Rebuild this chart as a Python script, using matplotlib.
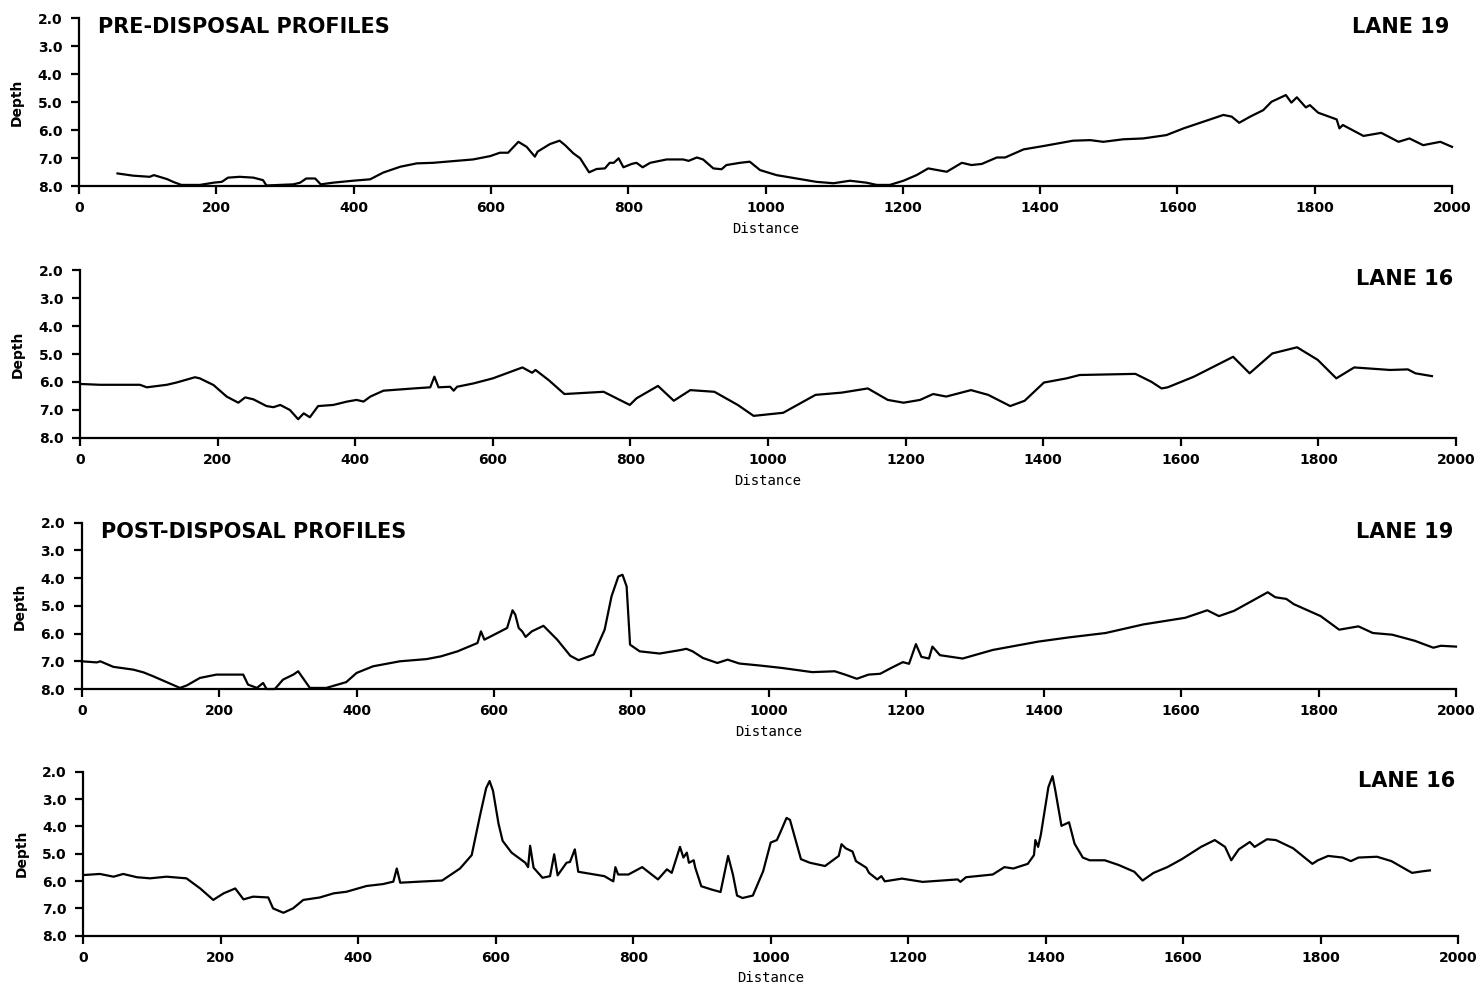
import matplotlib
matplotlib.use('Agg')
import matplotlib.pyplot as plt

# pre-disposal, lane 19
dist_pre19 = [56, 79, 103, 109, 128, 137, 149, 176, 196, 208, 217, 234, 254, 268, 273, 312, 322, 331, 344, 352,
              370, 399, 424, 443, 468, 492, 516, 540, 574, 599, 613, 625, 640, 652, 664, 668, 686, 700, 708, 720,
              730, 743, 754, 766, 773, 779, 786, 793, 805, 812, 821, 832, 856, 880, 888, 900, 909, 924, 936, 943,
              963, 977, 992, 1016, 1050, 1074, 1099, 1123, 1147, 1162, 1181, 1201, 1220, 1237, 1264, 1286, 1300, 1315, 1337, 1349,
              1376, 1405, 1448, 1473, 1492, 1521, 1550, 1584, 1609, 1638, 1667, 1679, 1690, 1706, 1725, 1737, 1758, 1766, 1774, 1787,
              1793, 1805, 1832, 1836, 1841, 1871, 1897, 1922, 1938, 1958, 1983, 2000]
depth_pre19 = [7.55, 7.63, 7.67, 7.61, 7.75, 7.85, 7.96, 7.96, 7.88, 7.85, 7.7, 7.67, 7.7, 7.79, 7.98, 7.94, 7.88, 7.73, 7.73, 7.94,
               7.88, 7.81, 7.76, 7.52, 7.31, 7.19, 7.17, 7.12, 7.05, 6.93, 6.81, 6.81, 6.42, 6.6, 6.95, 6.77, 6.5, 6.38, 6.54, 6.83,
               7.01, 7.51, 7.39, 7.37, 7.17, 7.17, 7.01, 7.33, 7.21, 7.17, 7.33, 7.17, 7.05, 7.05, 7.1, 6.98, 7.05, 7.37, 7.4, 7.25,
               7.17, 7.13, 7.43, 7.61, 7.75, 7.85, 7.9, 7.81, 7.88, 7.96, 7.96, 7.81, 7.61, 7.37, 7.49, 7.17, 7.25, 7.21, 6.98, 6.98,
               6.69, 6.57, 6.38, 6.36, 6.42, 6.33, 6.3, 6.18, 5.94, 5.7, 5.46, 5.52, 5.74, 5.52, 5.29, 4.99, 4.75, 5.02, 4.83, 5.19,
               5.11, 5.38, 5.62, 5.94, 5.82, 6.21, 6.1, 6.42, 6.3, 6.54, 6.42, 6.6]

# pre-disposal, lane 16
dist_pre16 = [0, 29, 87, 97, 126, 140, 167, 174, 194, 213, 230, 240, 252, 271, 281, 291, 305, 317, 325, 334,
              346, 368, 388, 402, 412, 422, 441, 485, 509, 515, 521, 538, 543, 548, 572, 600, 643, 657, 662, 681,
              704, 761, 799, 809, 840, 863, 887, 922, 956, 979, 1022, 1069, 1107, 1145, 1174, 1197, 1221, 1240, 1259, 1295,
              1320, 1352, 1373, 1401, 1434, 1453, 1534, 1557, 1572, 1581, 1619, 1676, 1700, 1733, 1769, 1799, 1826, 1852, 1904, 1930,
              1941, 1965]
depth_pre16 = [6.07, 6.1, 6.1, 6.19, 6.1, 6.02, 5.83, 5.87, 6.11, 6.52, 6.74, 6.55, 6.62, 6.86, 6.9, 6.82, 7.0, 7.33, 7.12, 7.26,
               6.86, 6.82, 6.7, 6.64, 6.7, 6.52, 6.31, 6.23, 6.19, 5.81, 6.19, 6.17, 6.31, 6.17, 6.05, 5.87, 5.48, 5.67, 5.57, 5.93,
               6.43, 6.35, 6.82, 6.58, 6.14, 6.67, 6.29, 6.35, 6.82, 7.21, 7.1, 6.46, 6.38, 6.23, 6.64, 6.74, 6.64, 6.43, 6.52, 6.29,
               6.46, 6.86, 6.67, 6.02, 5.87, 5.75, 5.71, 5.99, 6.23, 6.19, 5.81, 5.1, 5.69, 4.98, 4.76, 5.21, 5.87, 5.48, 5.57, 5.55,
               5.69, 5.79]

# post-disposal, lane 19
dist_post19 = [0, 22, 27, 46, 75, 90, 104, 143, 153, 172, 196, 235, 242, 255, 264, 269, 281, 293, 308, 315,
               332, 356, 385, 400, 424, 463, 502, 523, 547, 576, 581, 586, 619, 627, 631, 636, 641, 646, 655, 672,
               692, 711, 723, 745, 761, 771, 781, 787, 793, 798, 812, 841, 870, 880, 889, 904, 925, 940, 957, 986,
               1019, 1063, 1096, 1111, 1128, 1145, 1162, 1178, 1195, 1204, 1214, 1222, 1233, 1238, 1249, 1282, 1326, 1392, 1436, 1490,
               1545, 1606, 1638, 1655, 1677, 1699, 1726, 1737, 1753, 1764, 1803, 1830, 1858, 1879, 1907, 1940, 1967, 1978, 2000]
depth_post19 = [7.0, 7.04, 7.0, 7.2, 7.3, 7.4, 7.54, 7.96, 7.87, 7.6, 7.48, 7.48, 7.84, 7.96, 7.78, 8.0, 8.0, 7.66, 7.48, 7.36,
                7.96, 7.96, 7.75, 7.42, 7.18, 7.0, 6.92, 6.82, 6.64, 6.34, 5.92, 6.22, 5.8, 5.16, 5.32, 5.8, 5.92, 6.12, 5.92, 5.72,
                6.22, 6.8, 6.96, 6.76, 5.86, 4.66, 3.94, 3.88, 4.3, 6.4, 6.64, 6.72, 6.6, 6.55, 6.64, 6.88, 7.06, 6.94, 7.08, 7.15,
                7.24, 7.39, 7.36, 7.48, 7.63, 7.48, 7.45, 7.24, 7.03, 7.09, 6.38, 6.84, 6.9, 6.47, 6.78, 6.9, 6.59, 6.29, 6.14, 5.98,
                5.67, 5.43, 5.16, 5.37, 5.18, 4.88, 4.51, 4.69, 4.75, 4.94, 5.37, 5.86, 5.74, 5.98, 6.04, 6.26, 6.51, 6.44, 6.47]

# post-disposal, lane 16
dist_post16 = [0, 24, 44, 58, 78, 97, 121, 150, 170, 189, 204, 221, 233, 247, 269, 276, 291, 305, 320, 344,
               364, 383, 412, 436, 451, 456, 461, 490, 522, 548, 565, 577, 586, 591, 596, 604, 610, 623, 643, 647,
               650, 655, 668, 679, 685, 690, 703, 708, 715, 720, 758, 771, 774, 778, 793, 813, 836, 849, 856, 868,
               873, 878, 881, 888, 890, 899, 914, 927, 938, 945, 951, 959, 974, 989, 1000, 1009, 1015, 1023, 1028, 1044,
               1057, 1079, 1099, 1103, 1109, 1119, 1124, 1139, 1143, 1155, 1161, 1166, 1191, 1221, 1272, 1276, 1284, 1323, 1340, 1353,
               1374, 1383, 1385, 1389, 1393, 1404, 1410, 1414, 1423, 1434, 1442, 1454, 1464, 1486, 1506, 1529, 1541, 1557, 1577, 1598,
               1626, 1646, 1661, 1670, 1681, 1697, 1704, 1722, 1735, 1760, 1788, 1796, 1811, 1832, 1844, 1855, 1882, 1903, 1933, 1949,
               1959]
depth_post16 = [5.78, 5.74, 5.84, 5.74, 5.86, 5.9, 5.84, 5.9, 6.27, 6.69, 6.45, 6.27, 6.67, 6.57, 6.6, 7.0, 7.16, 7.0, 6.69, 6.6,
                6.45, 6.39, 6.18, 6.11, 6.02, 5.54, 6.06, 6.02, 5.98, 5.54, 5.05, 3.61, 2.6, 2.34, 2.7, 3.9, 4.53, 4.96, 5.33, 5.49,
                4.71, 5.51, 5.88, 5.82, 5.02, 5.79, 5.33, 5.3, 4.84, 5.66, 5.82, 6.01, 5.49, 5.76, 5.76, 5.49, 5.94, 5.57, 5.7, 4.75,
                5.14, 4.96, 5.33, 5.24, 5.49, 6.19, 6.31, 6.4, 5.08, 5.76, 6.53, 6.62, 6.53, 5.64, 4.59, 4.5, 4.16, 3.69, 3.76, 5.2,
                5.33, 5.45, 5.08, 4.65, 4.8, 4.92, 5.27, 5.51, 5.7, 5.94, 5.82, 6.01, 5.91, 6.03, 5.94, 6.03, 5.86, 5.76, 5.49, 5.54,
                5.37, 5.05, 4.5, 4.75, 4.3, 2.56, 2.16, 2.68, 3.98, 3.85, 4.63, 5.14, 5.24, 5.24, 5.41, 5.66, 5.98, 5.7, 5.49, 5.2,
                4.75, 4.5, 4.75, 5.24, 4.84, 4.57, 4.75, 4.47, 4.5, 4.8, 5.37, 5.24, 5.08, 5.14, 5.27, 5.14, 5.11, 5.27, 5.7, 5.64,
                5.61]

lane_labels = ['LANE 19', 'LANE 16', 'LANE 19', 'LANE 16']
section_labels = ['PRE-DISPOSAL PROFILES', None, 'POST-DISPOSAL PROFILES', None]
x_ticks = list(range(0, 2001, 200))
y_ticks = [2.0, 3.0, 4.0, 5.0, 6.0, 7.0, 8.0]

profiles = [(dist_pre19, depth_pre19), (dist_pre16, depth_pre16),
            (dist_post19, depth_post19), (dist_post16, depth_post16)]

# axes boxes in figure fractions: left, bottom, width, height
boxes = [[0.0533, 0.8117, 0.9258, 0.1700],
         [0.0540, 0.5567, 0.9278, 0.1700],
         [0.0551, 0.3026, 0.9267, 0.1684],
         [0.0562, 0.0529, 0.9270, 0.1660]]

fig = plt.figure(figsize=(14.83, 9.88), dpi=100)

for i in range(4):
    ax = fig.add_axes(boxes[i])
    x, d = profiles[i]
    ax.plot(x, d, color='black', lw=1.6, clip_on=False, solid_joinstyle='round')
    ax.set_xlim(0, 2000)
    ax.set_ylim(8, 2)
    ax.spines['top'].set_visible(False)
    ax.spines['right'].set_visible(False)
    ax.spines['left'].set_linewidth(1.6)
    ax.spines['bottom'].set_linewidth(1.6)
    ax.set_xticks(x_ticks)
    ax.set_xticklabels([str(t) for t in x_ticks])
    ax.set_yticks(y_ticks)
    ax.set_yticklabels(['%.1f' % t for t in y_ticks])
    ax.tick_params(axis='y', length=6, width=1.6, pad=6, labelsize=10)
    ax.tick_params(axis='x', length=6, width=1.6, pad=5, labelsize=10)
    for lab in ax.get_xticklabels() + ax.get_yticklabels():
        lab.set_fontweight('bold')

    ax.set_ylabel('Depth', fontsize=10, fontweight='bold', family=['Liberation Sans Narrow', 'DejaVu Sans'])
    ax.yaxis.set_label_coords(-0.04, 0.5)
    ax.text(0.5, -0.215, 'Distance', transform=ax.transAxes, ha='center', va='top',
            fontsize=10, family='DejaVu Sans Mono')

    ax.text(0.998, 0.945, lane_labels[i], transform=ax.transAxes, ha='right', va='center',
            fontsize=15, fontweight='heavy')
    if section_labels[i]:
        ax.text(0.014, 0.945, section_labels[i], transform=ax.transAxes, ha='left', va='center',
                fontsize=15, fontweight='heavy')

fig.savefig('out.png', dpi=100)
